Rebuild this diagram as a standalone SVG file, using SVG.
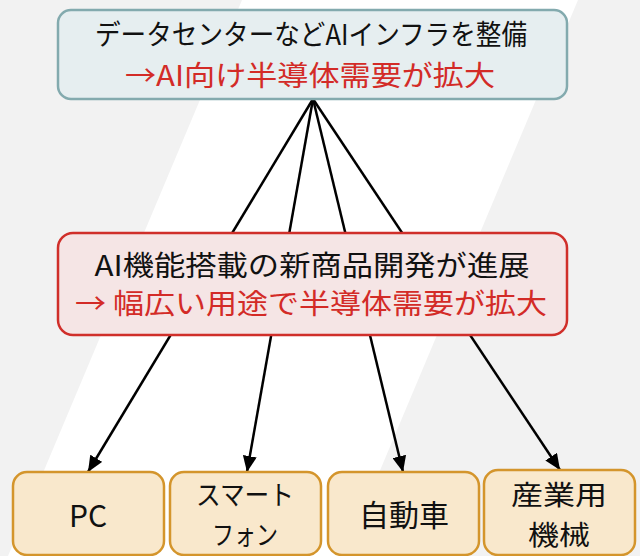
<svg xmlns="http://www.w3.org/2000/svg" width="640" height="556" viewBox="0 0 640 556">
<style>
  text { font-family: "Noto Sans CJK JP", "Noto Sans", sans-serif; text-anchor: middle; }
  .blk { fill: #111111; }
  .red { fill: #d32b27; }
  .big { font-size: 28px; }
  .sm { font-size: 30px; }
  .two { font-size: 27px; }
  .top { fill: #e6eef0; stroke: #83aaae; stroke-width: 2.5; }
  .mid { fill: #f5e5e5; stroke: #d02f2a; stroke-width: 2.5; }
  .leaf { fill: #f9e8cc; stroke: #d4952c; stroke-width: 2.5; }
  .conn { stroke: #000; stroke-width: 2.5; fill: none; marker-end: url(#ah); }
</style>
<defs>
  <marker id="ah" viewBox="0 0 16 14" refX="16" refY="7" markerWidth="16" markerHeight="14" markerUnits="userSpaceOnUse" orient="auto">
    <path d="M0,0 L16,7 L0,14 Z" fill="#000"/>
  </marker>
</defs>
<rect x="0" y="0" width="640" height="556" fill="#f2f2f2"/>
<polygon points="242,0 578,0 344,556 8,556" fill="#ffffff"/>

<g id="connectors">
  <line class="conn" x1="313" y1="99" x2="88" y2="472"/>
  <line class="conn" x1="313" y1="99" x2="247" y2="472"/>
  <line class="conn" x1="313" y1="99" x2="403" y2="472"/>
  <line class="conn" x1="313" y1="99" x2="560" y2="470"/>
</g>

<g id="node-infra">
  <rect class="top" x="58" y="10" width="509" height="89" rx="13"/>
  <text class="blk big" x="311" y="45" textLength="432" lengthAdjust="spacingAndGlyphs">データセンターなどAIインフラを整備</text>
  <text class="red big" x="310" y="86" textLength="370" lengthAdjust="spacingAndGlyphs">→AI向け半導体需要が拡大</text>
</g>

<g id="node-products">
  <rect class="mid" x="58" y="233" width="509" height="102" rx="15"/>
  <text class="blk big" x="312" y="276" textLength="435" lengthAdjust="spacingAndGlyphs">AI機能搭載の新商品開発が進展</text>
  <text class="red big" x="311" y="314" textLength="472" lengthAdjust="spacingAndGlyphs">→ 幅広い用途で半導体需要が拡大</text>
</g>

<g id="node-pc">
  <rect class="leaf" x="13" y="472" width="151" height="83" rx="14"/>
  <text class="blk sm" x="88" y="527">PC</text>
</g>

<g id="node-smartphone">
  <rect class="leaf" x="170" y="472" width="151" height="83" rx="14"/>
  <text class="blk two" x="245" y="505" textLength="98" lengthAdjust="spacingAndGlyphs">スマート</text>
  <text class="blk two" x="245" y="545" textLength="66" lengthAdjust="spacingAndGlyphs">フォン</text>
</g>

<g id="node-car">
  <rect class="leaf" x="328" y="472" width="151" height="83" rx="14"/>
  <text class="blk sm" x="404" y="526">自動車</text>
</g>

<g id="node-industrial">
  <rect class="leaf" x="484" y="470" width="151" height="85" rx="14"/>
  <text class="blk two" x="559" y="505" textLength="96" lengthAdjust="spacingAndGlyphs">産業用</text>
  <text class="blk two" x="559" y="545" textLength="62" lengthAdjust="spacingAndGlyphs">機械</text>
</g>
</svg>
